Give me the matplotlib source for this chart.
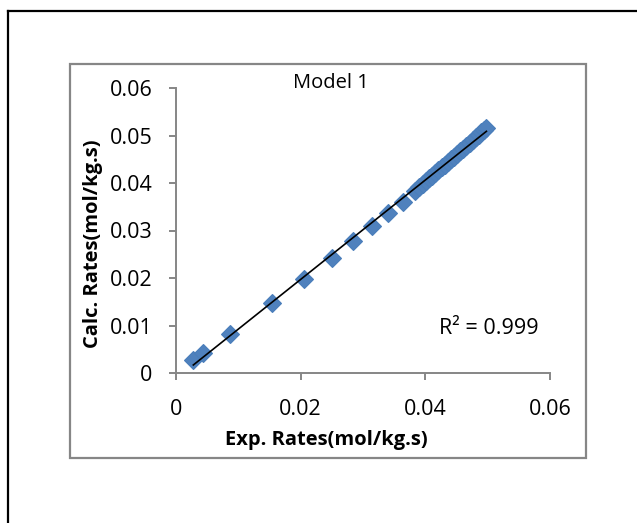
import numpy as np
import matplotlib
matplotlib.use("Agg")
import matplotlib.pyplot as plt
from matplotlib.lines import Line2D
from matplotlib.patches import Rectangle

exp_rates = [0.00278, 0.00438, 0.00866, 0.01535, 0.02054, 0.02498, 0.02845,
             0.03140, 0.03406, 0.03647, 0.03834,
             0.0390, 0.0396, 0.0401, 0.0406, 0.0411, 0.0416, 0.0421, 0.0426,
             0.0431, 0.0436, 0.0441, 0.0446, 0.0451, 0.0456, 0.0461, 0.0466,
             0.0471, 0.0476, 0.0481, 0.0486, 0.0490, 0.0494, 0.0498]
calc_rates = [0.00274, 0.00427, 0.00821, 0.01467, 0.01979, 0.02427, 0.02779,
              0.03101, 0.03362, 0.03606, 0.03838,
              0.0391, 0.0398, 0.0404, 0.0410, 0.0415, 0.0421, 0.0427, 0.0433,
              0.0438, 0.0444, 0.0450, 0.0455, 0.0461, 0.0467, 0.0472, 0.0478,
              0.0484, 0.0490, 0.0496, 0.0502, 0.0507, 0.0511, 0.0515]
ticks = [0, 0.01, 0.02, 0.03, 0.04, 0.05, 0.06]
xticks = [0, 0.02, 0.04, 0.06]

plt.rcParams['font.family'] = ['Open Sans', 'DejaVu Sans']
gray = '#868686'

fig = plt.figure(figsize=(6.37, 5.23), dpi=100)

# outer frame (only top and left visible in the original)
fig.add_artist(Line2D([8/637, 1], [1-11/523, 1-11/523], color='black', lw=1.6,
                      transform=fig.transFigure))
fig.add_artist(Line2D([8/637, 8/637], [0, 1-11/523], color='black', lw=1.6,
                      transform=fig.transFigure))
# chart area box
fig.add_artist(Rectangle((70/637, 1-458/523), 516/637, 394/523, fill=False,
                         edgecolor=gray, lw=1.6, transform=fig.transFigure))

ax = fig.add_axes([176/637, 1-373/523, 374/637, 285/523])
x = np.array(exp_rates)
y = np.array(calc_rates)
ax.plot(x, y, 'D', color='#4F81BD', markersize=9, markeredgewidth=0.8,
        markeredgecolor='#4A7EBB', zorder=2)
slope, icpt = np.polyfit(x, y, 1)
xl = np.array([x.min(), x.max()])
ax.plot(xl, slope*xl + icpt, color='black', lw=1.2, zorder=3)

ax.set_xlim(0, 0.06)
ax.set_ylim(0, 0.06)
ax.set_xticks(xticks)
ax.set_yticks(ticks)
ax.set_xticklabels(['0', '0.02', '0.04', '0.06'])
ax.set_yticklabels(['0', '0.01', '0.02', '0.03', '0.04', '0.05', '0.06'])
for s in ['top', 'right']:
    ax.spines[s].set_visible(False)
for s in ['left', 'bottom']:
    ax.spines[s].set_color(gray)
    ax.spines[s].set_linewidth(1.4)
ax.tick_params(direction='out', length=5, width=1.4, color=gray,
               labelsize=15.5)
ax.tick_params(axis='x', pad=14)
ax.tick_params(axis='y', pad=12)

ax.set_xlabel('Exp. Rates(mol/kg.s)', fontsize=14.5, fontweight='bold')
ax.set_ylabel('Calc. Rates(mol/kg.s)', fontsize=14.5, fontweight='bold')
ax.xaxis.set_label_coords(0.402, -0.235)
ax.xaxis.label.set_va('center')
ax.yaxis.set_label_coords(-0.222, 0.452)
ax.yaxis.label.set_va('center')
fig.text(331/637, 1-83/523, 'Model 1', fontsize=14.5, ha='center', va='center')
fig.text(489/637, 1-328/523, 'R² = 0.999', fontsize=15.5, ha='center', va='center')

fig.savefig('out.png', dpi=100)
